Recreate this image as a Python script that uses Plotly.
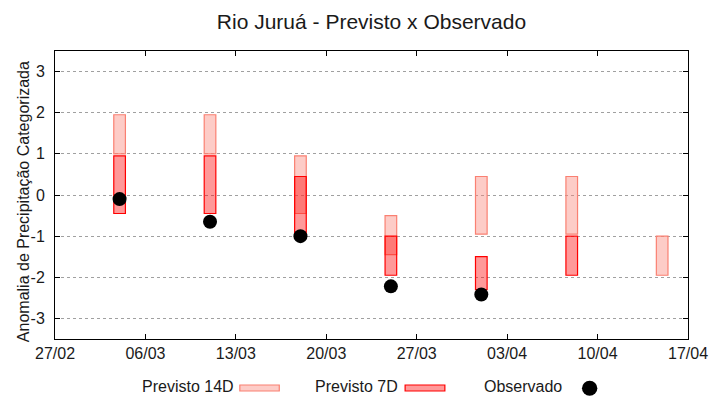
import plotly.graph_objects as go

# ---- data ----
dates = ["2025-03-04", "2025-03-11", "2025-03-18", "2025-03-25",
         "2025-04-01", "2025-04-08", "2025-04-15"]
p14_low = [1.0, 1.0, -0.45, -1.45, -0.95, -0.95, -1.95]
p14_high = [1.95, 1.95, 0.95, -0.5, 0.45, 0.45, -1.0]
p7_low = [-0.45, -0.45, -0.95, -1.95, -2.3, -1.95, None]
p7_high = [0.95, 0.95, 0.45, -1.0, -1.5, -1.0, None]
observed = [-0.1, -0.65, -1.0, -2.22, -2.42, None, None]
y_tick_vals = [-3, -2, -1, 0, 1, 2, 3]
y_tick_text = ["-3", "-2", "-1", "0", "1", "2", "3"]

DAY_MS = 86400000
BAR_W = 0.9 * DAY_MS
FONT = "Liberation Sans, Arial, sans-serif"

def span(lo, hi):
    return [None if (a is None or b is None) else b - a for a, b in zip(lo, hi)]

fig = go.Figure()
fig.add_trace(go.Bar(
    x=dates, y=span(p14_low, p14_high), base=p14_low, width=BAR_W,
    marker=dict(color="rgba(250,128,114,0.4)", line=dict(color="#fa8072", width=1.2)),
    name="Previsto 14D", showlegend=False))
fig.add_trace(go.Bar(
    x=dates, y=span(p7_low, p7_high), base=p7_low, width=BAR_W,
    marker=dict(color="rgba(255,0,0,0.4)", line=dict(color="#ff0000", width=1.2)),
    name="Previsto 7D", showlegend=False))
fig.add_trace(go.Scatter(
    x=dates, y=observed, mode="markers",
    marker=dict(color="black", size=14, symbol="circle"),
    name="Observado", showlegend=False))

# manual gnuplot-style legend (text then sample)
ly = -0.1632
dx = 0.0063
fig.add_annotation(text="Previsto 14D", xref="paper", yref="paper", x=0.2799 + dx, y=ly,
                   xanchor="right", yanchor="middle", showarrow=False,
                   font=dict(size=16, color="#1a1a1a", family=FONT))
fig.add_shape(type="rect", xref="paper", yref="paper", x0=0.2920, x1=0.3543,
              y0=-0.1806, y1=-0.1597, fillcolor="rgba(250,128,114,0.4)",
              line=dict(color="#fa8072", width=1.2))
fig.add_annotation(text="Previsto 7D", xref="paper", yref="paper", x=0.5389 + dx, y=ly,
                   xanchor="right", yanchor="middle", showarrow=False,
                   font=dict(size=16, color="#1a1a1a", family=FONT))
fig.add_shape(type="rect", xref="paper", yref="paper", x0=0.5531, x1=0.6159,
              y0=-0.1806, y1=-0.1597, fillcolor="rgba(255,0,0,0.4)",
              line=dict(color="#ff0000", width=1.2))
fig.add_annotation(text="Observado", xref="paper", yref="paper", x=0.7980 + dx, y=ly,
                   xanchor="right", yanchor="middle", showarrow=False,
                   font=dict(size=16, color="#1a1a1a", family=FONT))
fig.add_shape(type="circle", xref="paper", yref="paper", x0=0.8325, x1=0.8568,
              y0=-0.1972, y1=-0.1451, fillcolor="black", line=dict(color="black", width=0))

# y-axis title
fig.add_annotation(text="Anomalia de Precipitação Categorizada", xref="paper", yref="paper",
                   x=-0.0487, y=0.4757, textangle=-90, xanchor="center", yanchor="middle",
                   showarrow=False, font=dict(size=16, color="#1a1a1a", family=FONT))

fig.update_layout(
    width=720, height=400,
    margin=dict(l=55, r=28, t=51, b=61),
    paper_bgcolor="white", plot_bgcolor="white",
    barmode="overlay",
    showlegend=False,
    font=dict(family=FONT, size=16, color="#1a1a1a"),
    title=dict(text="Rio Juruá - Previsto x Observado", x=0.5, xref="paper",
               xanchor="center", y=1 - 22 / 400, yref="container", yanchor="middle",
               font=dict(size=21, family=FONT, color="#1a1a1a")),
    xaxis=dict(type="date", range=["2025-02-27", "2025-04-17"],
               tick0="2025-02-27", dtick=7 * DAY_MS, tickformat="%d/%m",
               showgrid=False, zeroline=False,
               showline=True, linecolor="black", linewidth=1, mirror="ticks",
               ticks="inside", ticklen=5, tickcolor="black",
               tickfont=dict(size=16, family=FONT, color="#1a1a1a")),
    yaxis=dict(range=[-3.5, 3.5], tickvals=y_tick_vals, ticktext=y_tick_text,
               showgrid=True, gridcolor="#a0a0a0", gridwidth=1, griddash="3px,3px",
               zeroline=False,
               showline=True, linecolor="black", linewidth=1, mirror="ticks",
               ticks="inside", ticklen=5, tickcolor="black",
               ticklabelstandoff=6,
               tickfont=dict(size=16, family=FONT, color="#1a1a1a")),
)

fig.write_html("out.html", config={"displayModeBar": False},
               post_script="document.body.style.margin='0';document.body.style.overflow='hidden';")
